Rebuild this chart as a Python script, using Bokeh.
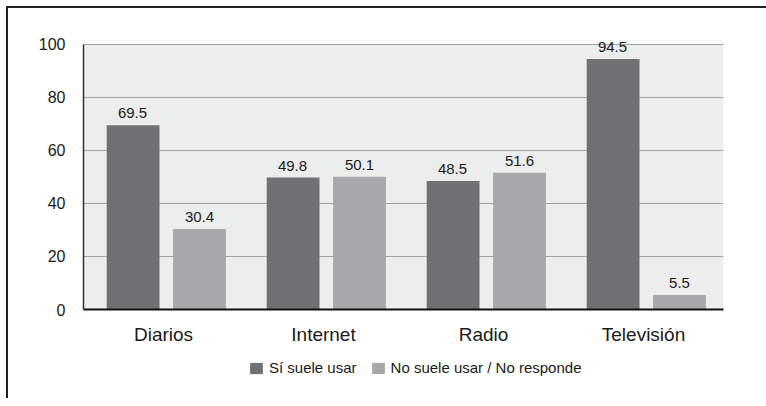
from bokeh.plotting import figure
from bokeh.layouts import column
from bokeh.models import (ColumnDataSource, FactorRange, Range1d, FixedTicker,
                          LabelSet, Legend, LegendItem, BoxAnnotation)
from bokeh.core.properties import value
from bokeh.transform import dodge
from bokeh.embed import file_html
from bokeh.resources import INLINE

categories = ["Diarios", "Internet", "Radio", "Televisión"]
si_usa = [69.5, 49.8, 48.5, 94.5]
no_usa = [30.4, 50.1, 51.6, 5.5]
y_ticks = [0, 20, 40, 60, 80, 100]
series_names = ["Sí suele usar", "No suele usar / No responde"]

DARK = "#707173"
LIGHT = "#A7A8AA"
TEXT = "#1a1a1a"
FONT = "Liberation Sans"

src = ColumnDataSource(dict(
    cat=categories, si=si_usa, no=no_usa,
    si_lbl=[f"{v:.1f}" for v in si_usa],
    no_lbl=[f"{v:.1f}" for v in no_usa],
))

p = figure(width=758, height=342, output_backend="svg", toolbar_location=None,
           x_range=FactorRange(*categories, range_padding=0),
           y_range=Range1d(0, 101.5),
           min_border_left=75, min_border_top=32, min_border_right=43,
           min_border_bottom=41)

p.background_fill_color = "#ECEDED"
p.border_fill_color = "white"
p.outline_line_color = None

# white strip above the 100 gridline (headroom for value labels)
p.add_layout(BoxAnnotation(bottom=100.25, top=101.5, fill_color="white",
                           fill_alpha=1, line_color=None, level="underlay"))

r1 = p.vbar(x=dodge("cat", -0.19, range=p.x_range), top="si", width=0.33,
            source=src, fill_color=DARK, line_color=None)
r2 = p.vbar(x=dodge("cat", 0.225, range=p.x_range), top="no", width=0.33,
            source=src, fill_color=LIGHT, line_color=None)

for col, off in (("si", -31), ("no", 36)):
    p.add_layout(LabelSet(x="cat", y=col, text=col + "_lbl", source=src,
                          x_offset=off, y_offset=7, text_align="center",
                          text_baseline="alphabetic", text_font=value(FONT),
                          text_font_size=value("15px"), text_color=TEXT))

# axes
p.yaxis.ticker = FixedTicker(ticks=y_ticks)
p.yaxis.bounds = (0, 100)
p.yaxis.major_tick_line_color = None
p.yaxis.minor_tick_line_color = None
p.yaxis.axis_line_color = "#333333"
p.yaxis.axis_line_width = 1.5
p.yaxis.major_label_text_font = FONT
p.yaxis.major_label_text_font_size = "16px"
p.yaxis.major_label_text_color = TEXT
p.yaxis.major_label_standoff = 12

p.xaxis.major_tick_line_color = None
p.xaxis.minor_tick_line_color = None
p.xaxis.axis_line_color = "#111111"
p.xaxis.axis_line_width = 2
p.xaxis.major_label_text_font = FONT
p.xaxis.major_label_text_font_size = "19px"
p.xaxis.major_label_text_color = TEXT
p.xaxis.major_label_standoff = 8

p.xgrid.grid_line_color = None
p.ygrid.grid_line_color = "#A3A3A3"
p.ygrid.grid_line_width = 1.2

# legend strip below the chart (its bars lie outside its visible y range)
lg = figure(width=758, height=48, output_backend="svg", toolbar_location=None,
            x_range=FactorRange(*categories, range_padding=0),
            y_range=Range1d(200, 201),
            x_axis_location=None, y_axis_location=None, min_border=0)
lg.outline_line_color = None
lg.background_fill_color = "white"
lg.border_fill_color = "white"
lg.xgrid.visible = False
lg.ygrid.visible = False
k1 = lg.vbar(x="cat", top="si", width=0.33, source=src,
             fill_color=DARK, line_color=None)
k2 = lg.vbar(x="cat", top="no", width=0.33, source=src,
             fill_color=LIGHT, line_color=None)

legend = Legend(items=[LegendItem(label=series_names[0], renderers=[k1]),
                       LegendItem(label=series_names[1], renderers=[k2])],
                orientation="horizontal", location=(165, 22),
                padding=0, margin=0, spacing=13,
                glyph_width=16, glyph_height=14, label_height=14,
                label_standoff=5, label_text_font=FONT,
                label_text_font_size="15px", label_text_color=TEXT,
                background_fill_alpha=0, border_line_color=None)
lg.add_layout(legend, "center")

layout = column(p, lg, spacing=0)
layout.styles = {"margin-left": "6px", "margin-top": "6px",
                 "border-top": "2px solid #222222", "border-left": "2px solid #222222"}

open("out.html", "w").write(file_html(layout, INLINE))
